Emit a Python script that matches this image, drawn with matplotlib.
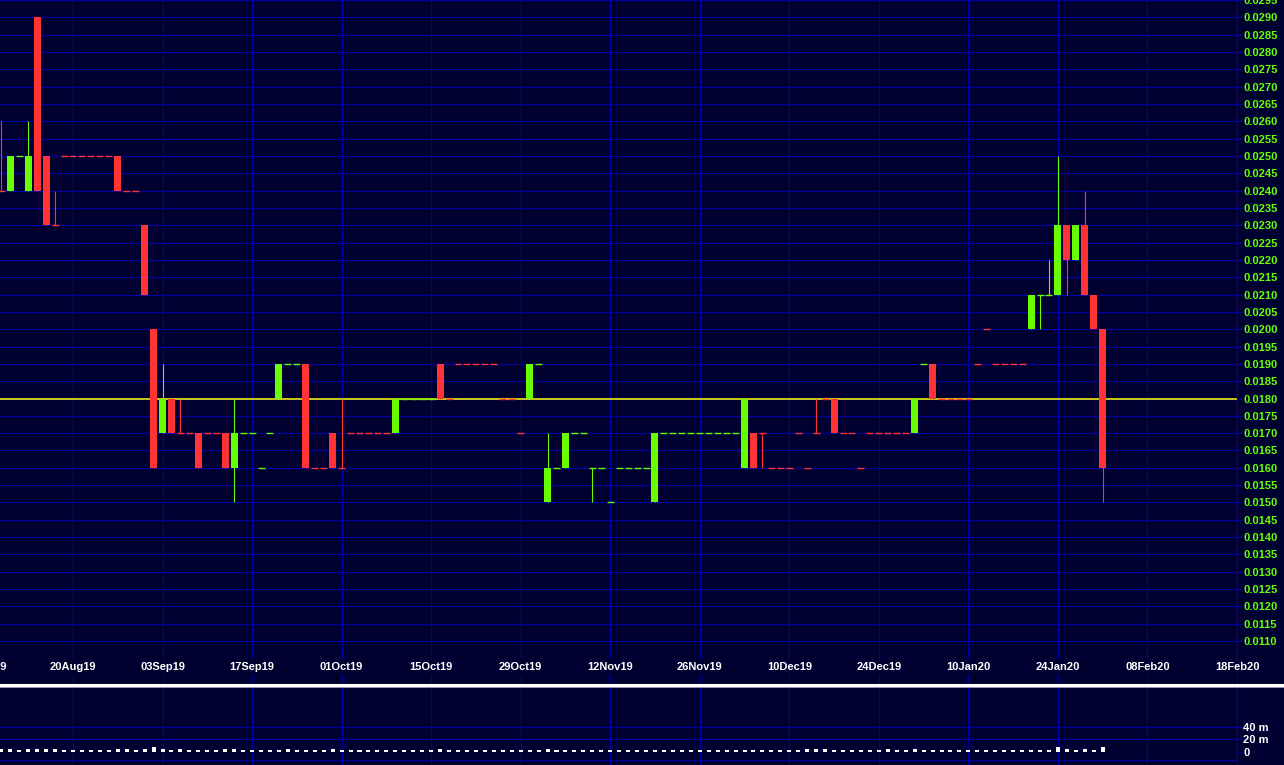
import numpy as np
import matplotlib
matplotlib.use("Agg")
import matplotlib.pyplot as plt
from matplotlib.lines import Line2D
from matplotlib.transforms import blended_transform_factory

plt.rcParams["font.family"] = ["Liberation Sans", "DejaVu Sans"]

BG    = "#000030"
GRID  = "#0000aa"
UP    = "#66ff00"
DOWN  = "#ff3333"
REFC  = "#ffff00"

# bar index of every date label (one label per 10 trading days)
DATE_TICKS  = [-2, 8, 18, 28, 38, 48, 58, 68, 78, 88, 98, 108, 118, 128, 138]
DATE_LABELS = ["06Aug19", "20Aug19", "03Sep19", "17Sep19", "01Oct19", "15Oct19",
               "29Oct19", "12Nov19", "26Nov19", "10Dec19", "24Dec19", "10Jan20",
               "24Jan20", "08Feb20", "18Feb20"]

REF_PRICE = 0.0180

OPENS = [
    .024, .024, .025, .024, .029, .025, .023, .025, .025, .025,
    .025, .025, .025, .025, .024, .024, .023, .020, .017, .018,
    .017, .017, .017, .017, .017, .017, .016, .017, .017, .016,
    .017, .018, .019, .019, .019, .016, .016, .017, .016, .017,
    .017, .017, .017, .017, .017, .018, .018, .018, .018, .019,
    .018, .019, .019, .019, .019, .019, .018, .018, .017, .018,
    .019, .015, .016, .016, .017, .017, .016, .016, .015, .016,
    .016, .016, .016, .015, .017, .017, .017, .017, .017, .017,
    .017, .017, .017, .016, .017, .017, .016, .016, .016, .017,
    .016, .017, .018, .018, .017, .017, .016, .017, .017, .017,
    .017, .017, .017, .019, .019, .018, .018, .018, .018, .019,
    .020, .019, .019, .019, .019, .020, .021, .021, .021, .023,
    .022, .023, .021, .020,
]
HIGHS = [
    .026, .025, .025, .026, .029, .025, .024, .025, .025, .025,
    .025, .025, .025, .025, .024, .024, .023, .020, .019, .018,
    .018, .017, .017, .017, .017, .017, .018, .017, .017, .016,
    .017, .019, .019, .019, .019, .016, .016, .017, .018, .017,
    .017, .017, .017, .017, .018, .018, .018, .018, .018, .019,
    .018, .019, .019, .019, .019, .019, .018, .018, .017, .019,
    .019, .017, .016, .017, .017, .017, .016, .016, .015, .016,
    .016, .016, .016, .017, .017, .017, .017, .017, .017, .017,
    .017, .017, .017, .018, .017, .017, .016, .016, .016, .017,
    .016, .018, .018, .018, .017, .017, .016, .017, .017, .017,
    .017, .017, .018, .019, .019, .018, .018, .018, .018, .019,
    .020, .019, .019, .019, .019, .021, .021, .022, .025, .023,
    .023, .024, .021, .020,
]
LOWS = [
    .024, .024, .025, .024, .024, .023, .023, .025, .025, .025,
    .025, .025, .025, .024, .024, .024, .021, .016, .017, .017,
    .017, .017, .016, .017, .017, .016, .015, .017, .017, .016,
    .017, .018, .019, .019, .016, .016, .016, .016, .016, .017,
    .017, .017, .017, .017, .017, .018, .018, .018, .018, .018,
    .018, .019, .019, .019, .019, .019, .018, .018, .017, .018,
    .019, .015, .016, .016, .017, .017, .015, .016, .015, .016,
    .016, .016, .016, .015, .017, .017, .017, .017, .017, .017,
    .017, .017, .017, .016, .016, .016, .016, .016, .016, .017,
    .016, .017, .018, .017, .017, .017, .016, .017, .017, .017,
    .017, .017, .017, .019, .018, .018, .018, .018, .018, .019,
    .020, .019, .019, .019, .019, .020, .020, .021, .021, .021,
    .022, .021, .020, .015,
]
CLOSES = [
    .024, .025, .025, .025, .024, .023, .023, .025, .025, .025,
    .025, .025, .025, .024, .024, .024, .021, .016, .018, .017,
    .017, .017, .016, .017, .017, .016, .017, .017, .017, .016,
    .017, .019, .019, .019, .016, .016, .016, .016, .016, .017,
    .017, .017, .017, .017, .018, .018, .018, .018, .018, .018,
    .018, .019, .019, .019, .019, .019, .018, .018, .017, .019,
    .019, .016, .016, .017, .017, .017, .016, .016, .015, .016,
    .016, .016, .016, .017, .017, .017, .017, .017, .017, .017,
    .017, .017, .017, .018, .016, .017, .016, .016, .016, .017,
    .016, .017, .018, .017, .017, .017, .016, .017, .017, .017,
    .017, .017, .018, .019, .018, .018, .018, .018, .018, .019,
    .020, .019, .019, .019, .019, .021, .021, .021, .023, .022,
    .023, .021, .020, .016,
]
# volume in millions
VOLUME_M = [
    4, 4, 2.5, 5, 5, 4, 4, 2.5, 2.5, 2.5,
    2.5, 2.5, 2.5, 4, 4, 2.5, 4, 7, 4, 2.5,
    4, 2.5, 2.5, 2.5, 2.5, 4, 4, 2.5, 2.5, 2.5,
    2.5, 2.5, 4, 2.5, 2.5, 2.5, 2.5, 4, 2.5, 2.5,
    2.5, 2.5, 2.5, 2.5, 2.5, 2.5, 2.5, 2.5, 2.5, 4,
    2.5, 2.5, 2.5, 2.5, 2.5, 2.5, 2.5, 2.5, 2.5, 2.5,
    2.5, 4, 2.5, 2.5, 2.5, 2.5, 2.5, 2.5, 2.5, 2.5,
    2.5, 2.5, 2.5, 2.5, 2.5, 2.5, 2.5, 2.5, 2.5, 2.5,
    2.5, 2.5, 2.5, 2.5, 2.5, 2.5, 2.5, 2.5, 2.5, 2.5,
    4, 4, 4, 2.5, 2.5, 2.5, 2.5, 2.5, 2.5, 4,
    2.5, 2.5, 4, 2.5, 2.5, 2.5, 2.5, 2.5, 2.5, 2.5,
    2.5, 2.5, 2.5, 2.5, 2.5, 2.5, 2.5, 2.5, 7, 4,
    2.5, 5, 2.5, 7,
]

o = np.array(OPENS); h = np.array(HIGHS); l = np.array(LOWS); c = np.array(CLOSES)
idx = np.arange(len(o))

# flat bars keep the colour of the previous move
colors = []
prev = DOWN
for op, cl in zip(o, c):
    if cl > op: prev = UP
    elif cl < op: prev = DOWN
    colors.append(prev)
colors = np.array(colors)

W, H = 1284, 765
fig = plt.figure(figsize=(W / 100, H / 100), dpi=100, facecolor=BG)
ax  = fig.add_axes([0, (H - 683) / H, 1237 / W, 683 / H], facecolor=BG)
axv = fig.add_axes([0, 0, 1237 / W, (H - 687) / H], facecolor=BG, sharex=ax)

BODY_W = 0.78
body = ~np.isclose(o, c)
flat = ~body
wick = h > l

ax.vlines(idx[wick], l[wick], h[wick], colors=colors[wick], lw=0.8, zorder=3)
ax.bar(idx[body], np.abs(c - o)[body], bottom=np.minimum(o, c)[body],
       width=BODY_W, color=colors[body], linewidth=0, zorder=4)
ax.hlines(o[flat], idx[flat] - BODY_W / 2, idx[flat] + BODY_W / 2,
          colors=colors[flat], lw=1.0, zorder=4)
ax.axhline(REF_PRICE, color=REFC, lw=1.1, zorder=2)

ax.set_ylim(0.00979, 0.02949)
yt = np.round(np.arange(110, 296, 5) / 10000, 4)
ax.yaxis.tick_right()
ax.set_yticks(yt)
ax.set_yticklabels([f"{v:.4f}" for v in yt], fontsize=8, fontweight="bold")
ax.tick_params(axis="y", length=3.6, width=0.8, color=GRID, labelcolor=UP, pad=1)
ax.set_xticks(DATE_TICKS)
ax.tick_params(axis="x", length=0, labelbottom=False)
ax.grid(True, color=GRID, lw=0.8)
ax.set_axisbelow(True)
for name, sp in ax.spines.items():
    sp.set_visible(name == "right")
    sp.set_color(GRID); sp.set_linewidth(0.8)

tr = blended_transform_factory(ax.transData, ax.transAxes)
for x, lab in zip(DATE_TICKS, DATE_LABELS):
    ax.text(x, 0.0234, lab, transform=tr, ha="center", va="center",
            color="white", fontsize=8, fontweight="bold", clip_on=False, zorder=5,
            bbox=dict(facecolor=BG, edgecolor="none", pad=2))

# volume panel
axv.bar(idx, VOLUME_M, width=0.45, color="white", linewidth=0, zorder=3)
axv.set_ylim(-20.8, 103)
axv.yaxis.tick_right()
axv.set_yticks([0, 20, 40])
axv.set_yticklabels(["0", "20 m", "40 m"], fontsize=8, fontweight="bold")
axv.tick_params(axis="y", length=3.6, width=0.8, color=GRID, labelcolor="white", pad=1)
axv.tick_params(axis="x", length=0, labelbottom=False)
axv.grid(True, axis="x", color=GRID, lw=0.8)
for yv in [40, 20, -13]:
    axv.axhline(yv, color=GRID, lw=0.8, zorder=1)
axv.set_axisbelow(True)
for name, sp in axv.spines.items():
    sp.set_visible(name == "right")
    sp.set_color(GRID); sp.set_linewidth(0.8)

# x range set last: set_xticks would otherwise widen it to the -2 tick
ax.set_xlim(-0.15, 138.0)

# separator between the panels
fig.add_artist(Line2D([0, 1], [1 - 684.5 / H] * 2, transform=fig.transFigure,
                      color="white", lw=2.2))
fig.add_artist(Line2D([0, 1], [1 - 686.5 / H] * 2, transform=fig.transFigure,
                      color="#9a9ab0", lw=0.7))

fig.savefig("out.png", dpi=100, facecolor=BG)
plt.close(fig)
